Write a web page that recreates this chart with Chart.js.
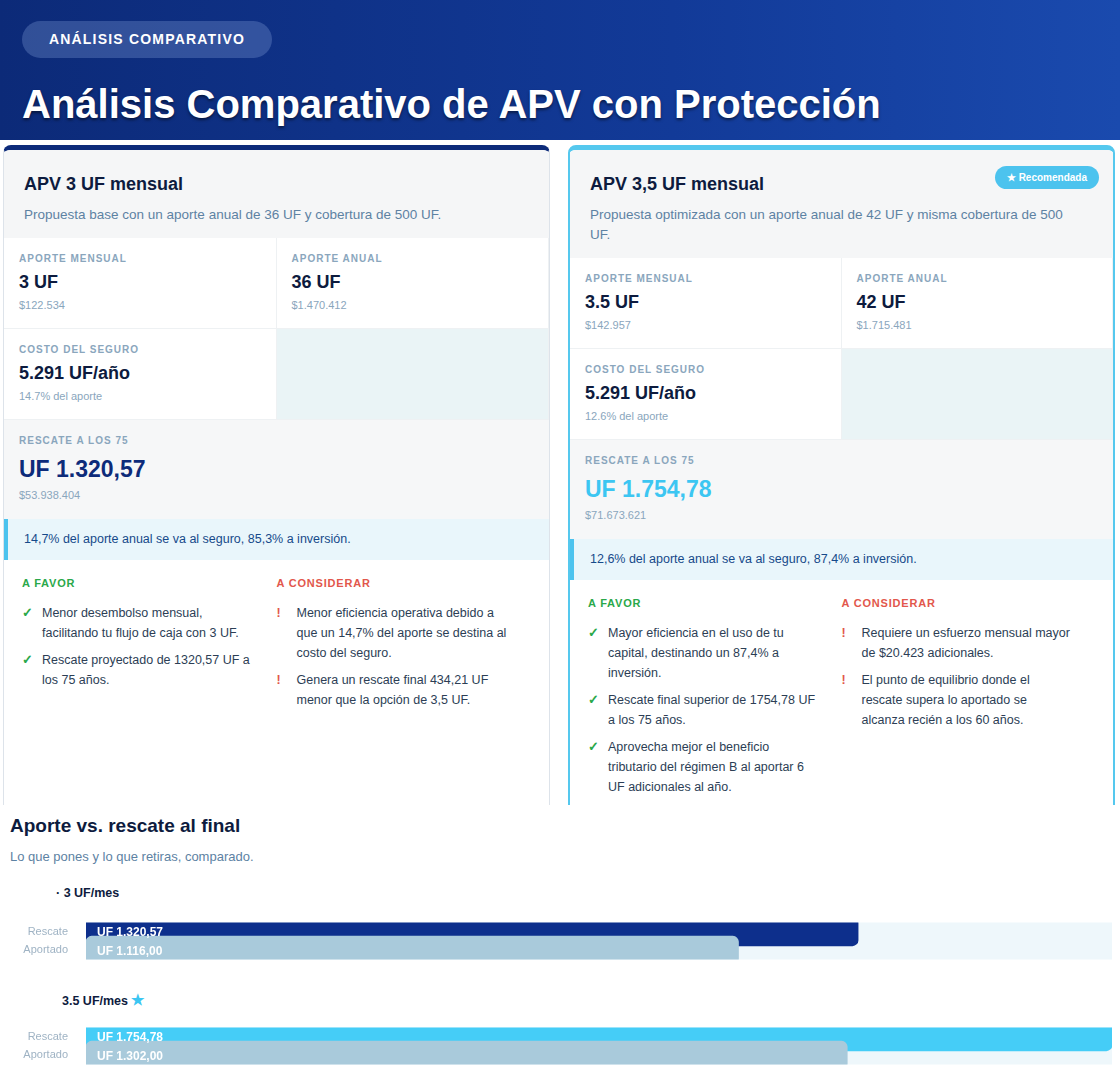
<!DOCTYPE html>
<html><head><meta charset="utf-8">
<script src="https://cdn.jsdelivr.net/npm/chart.js@4"></script>
<style>
*{box-sizing:border-box;margin:0;padding:0}
body{width:1120px;height:1091px;overflow:hidden;background:#fff;font-family:"Liberation Sans",Arial,sans-serif;position:relative}
.hdr{position:absolute;left:0;top:0;width:1120px;height:140px;background:linear-gradient(90deg,#0c2a78,#123a98 60%,#1a4aae)}
.badge{position:absolute;left:22px;top:21px;width:250px;height:37px;border-radius:19px;background:rgba(120,150,210,.35);color:#fff;font-weight:bold;font-size:14px;letter-spacing:1.2px;line-height:37px;text-align:center}
.title{position:absolute;left:22px;top:82px;color:#fff;font-weight:bold;font-size:40px;text-shadow:0 2px 3px rgba(0,0,0,.5)}
.card{position:absolute;top:145px;width:547px;height:680px;background:#fff;border-radius:8px;overflow:hidden}
.c1{left:3px;border:1px solid #dde3ea;border-top:5px solid #0d2b7a}
.c2{left:568px;border:2px solid #55c8ee;border-top:5px solid #55c8ee}
.ch{background:#f5f6f7;padding:24px 20px 0 20px;position:relative}
.ch h2{font-size:18px;color:#0d1b3e}
.ch p{font-size:13.5px;color:#5d82a3;margin-top:10px;line-height:20px}
.rec{position:absolute;right:14px;top:16px;background:#4cc3ee;color:#fff;font-size:10px;font-weight:bold;padding:6px 12px;border-radius:12px}
.grid{display:grid;grid-template-columns:1fr 1fr}
.cell{height:91px;padding:15px 15px;background:#fff;border-right:1px solid #eef1f3;border-bottom:1px solid #eef1f3}
.cell.e{background:#eaf4f6}
.lab{font-size:10px;font-weight:bold;color:#8aa6bd;letter-spacing:1px}
.val{font-size:18px;font-weight:bold;color:#0d1b3e;margin-top:8px}
.sub{font-size:11px;color:#8aa6bd;margin-top:6px}
.res{height:99px;background:#f6f7f8;padding:15px 15px}
.res .val{font-size:23px;margin-top:10px}
.note{height:41px;background:#e9f6fb;border-left:4px solid #4cc3ee;font-size:12.5px;color:#164a8a;line-height:41px;padding-left:16px}
.pc{display:grid;grid-template-columns:1fr 1fr;padding:17px 18px}
.pc h4{font-size:11px;letter-spacing:.8px;margin-bottom:14px}
.pc .f{color:#2aa84a}.pc .c{color:#e2574c}
.it{font-size:12.5px;color:#2c3e55;line-height:20px;padding-left:20px;position:relative;margin-bottom:7px;padding-right:24px}
.it b{position:absolute;left:0;top:0}
.bt{position:absolute;left:10px;top:815px;font-size:19px;font-weight:bold;color:#0d1b3e}
.bs{position:absolute;left:10px;top:849px;font-size:13px;color:#5d82a3}
.gh{position:absolute;font-size:12.5px;font-weight:bold;color:#0d1b3e}
.cw{position:absolute;left:0;width:1112px;height:70px}
</style></head><body>
<div class="hdr"><div class="badge">ANÁLISIS COMPARATIVO</div><div class="title">Análisis Comparativo de APV con Protección</div></div>

<div class="card c1">
 <div class="ch" style="height:88px"><h2>APV 3 UF mensual</h2><p>Propuesta base con un aporte anual de 36 UF y cobertura de 500 UF.</p></div>
 <div class="grid">
  <div class="cell"><div class="lab">APORTE MENSUAL</div><div class="val">3 UF</div><div class="sub">$122.534</div></div>
  <div class="cell"><div class="lab">APORTE ANUAL</div><div class="val">36 UF</div><div class="sub">$1.470.412</div></div>
  <div class="cell"><div class="lab">COSTO DEL SEGURO</div><div class="val">5.291 UF/año</div><div class="sub">14.7% del aporte</div></div>
  <div class="cell e"></div>
 </div>
 <div class="res"><div class="lab">RESCATE A LOS 75</div><div class="val" style="color:#0d2b7a">UF 1.320,57</div><div class="sub">$53.938.404</div></div>
 <div class="note">14,7% del aporte anual se va al seguro, 85,3% a inversión.</div>
 <div class="pc">
  <div><h4 class="f">A FAVOR</h4><div class="it"><b style="color:#2aa84a">✓</b>Menor desembolso mensual, facilitando tu flujo de caja con 3 UF.</div><div class="it"><b style="color:#2aa84a">✓</b>Rescate proyectado de 1320,57 UF a los 75 años.</div></div>
  <div><h4 class="c">A CONSIDERAR</h4><div class="it"><b style="color:#e2574c">!</b>Menor eficiencia operativa debido a que un 14,7% del aporte se destina al costo del seguro.</div><div class="it"><b style="color:#e2574c">!</b>Genera un rescate final 434,21 UF menor que la opción de 3,5 UF.</div></div>
 </div>
</div>

<div class="card c2">
 <div class="ch" style="height:108px"><h2>APV 3,5 UF mensual</h2><p style="padding-right:10px">Propuesta optimizada con un aporte anual de 42 UF y misma cobertura de 500 UF.</p><div class="rec">★ Recomendada</div></div>
 <div class="grid">
  <div class="cell"><div class="lab">APORTE MENSUAL</div><div class="val">3.5 UF</div><div class="sub">$142.957</div></div>
  <div class="cell"><div class="lab">APORTE ANUAL</div><div class="val">42 UF</div><div class="sub">$1.715.481</div></div>
  <div class="cell"><div class="lab">COSTO DEL SEGURO</div><div class="val">5.291 UF/año</div><div class="sub">12.6% del aporte</div></div>
  <div class="cell e"></div>
 </div>
 <div class="res"><div class="lab">RESCATE A LOS 75</div><div class="val" style="color:#3cc6f2">UF 1.754,78</div><div class="sub">$71.673.621</div></div>
 <div class="note">12,6% del aporte anual se va al seguro, 87,4% a inversión.</div>
 <div class="pc">
  <div><h4 class="f">A FAVOR</h4><div class="it"><b style="color:#2aa84a">✓</b>Mayor eficiencia en el uso de tu capital, destinando un 87,4% a inversión.</div><div class="it"><b style="color:#2aa84a">✓</b>Rescate final superior de 1754,78 UF a los 75 años.</div><div class="it"><b style="color:#2aa84a">✓</b>Aprovecha mejor el beneficio tributario del régimen B al aportar 6 UF adicionales al año.</div></div>
  <div><h4 class="c">A CONSIDERAR</h4><div class="it"><b style="color:#e2574c">!</b>Requiere un esfuerzo mensual mayor de $20.423 adicionales.</div><div class="it"><b style="color:#e2574c">!</b>El punto de equilibrio donde el rescate supera lo aportado se alcanza recién a los 60 años.</div></div>
 </div>
</div>
<div style="position:absolute;left:0;top:805px;width:1120px;height:286px;background:#fff"></div>
<div class="bt">Aporte vs. rescate al final</div>
<div class="bs">Lo que pones y lo que retiras, comparado.</div>
<div class="gh" style="left:56px;top:886px">· 3 UF/mes</div>
<div class="cw" style="top:906px"><canvas id="g1" width="1112" height="70"></canvas></div>
<div class="gh" style="left:62px;top:991px">3.5 UF/mes <span style="color:#3cc6f2;font-size:15px">★</span></div>
<div class="cw" style="top:1011px"><canvas id="g2" width="1112" height="70"></canvas></div>
<script>
const rowLabels=["Rescate","Aportado"];
const plan3=[1320.57,1116.00];
const plan35=[1754.78,1302.00];
const plan3Text=["UF 1.320,57","UF 1.116,00"];
const plan35Text=["UF 1.754,78","UF 1.302,00"];
const axisMax=1754.78;
const labelPlugin={id:"lbl",afterDatasetsDraw(ch){const m=ch.getDatasetMeta(1);const ctx=ch.ctx;ctx.save();ctx.font="bold 12px 'Liberation Sans',Arial";ctx.fillStyle="#fff";ctx.textBaseline="middle";m.data.forEach((b,i)=>{ctx.fillText(ch.options.plugins.lbl.texts[i],b.base+11,b.y+1)});ctx.restore();}};
function make(id,vals,texts,col){
 new Chart(document.getElementById(id),{type:"bar",plugins:[labelPlugin],
 data:{labels:rowLabels,datasets:[
  {data:rowLabels.map(()=>axisMax),backgroundColor:"#eef7fb",barThickness:28,borderRadius:6,borderSkipped:false,grouped:false,order:2},
  {data:vals,backgroundColor:[col,"#a9cadb"],barThickness:28,borderRadius:6,borderSkipped:false,grouped:false,order:1}]},
 options:{indexAxis:"y",responsive:false,animation:false,devicePixelRatio:1,layout:{padding:{top:2,bottom:2}},
  plugins:{legend:{display:false},tooltip:{enabled:false},lbl:{texts}},
  scales:{x:{display:false,min:0,max:axisMax},
   y:{grid:{display:false},border:{display:false},afterFit(s){s.width=86},ticks:{color:"#9fb3c4",font:{size:11,family:"'Liberation Sans',Arial"},padding:10}}}}});
}
make("g1",plan3,plan3Text,"#0d2f8c");
make("g2",plan35,plan35Text,"#45cdf7");
</script>
</body></html>
